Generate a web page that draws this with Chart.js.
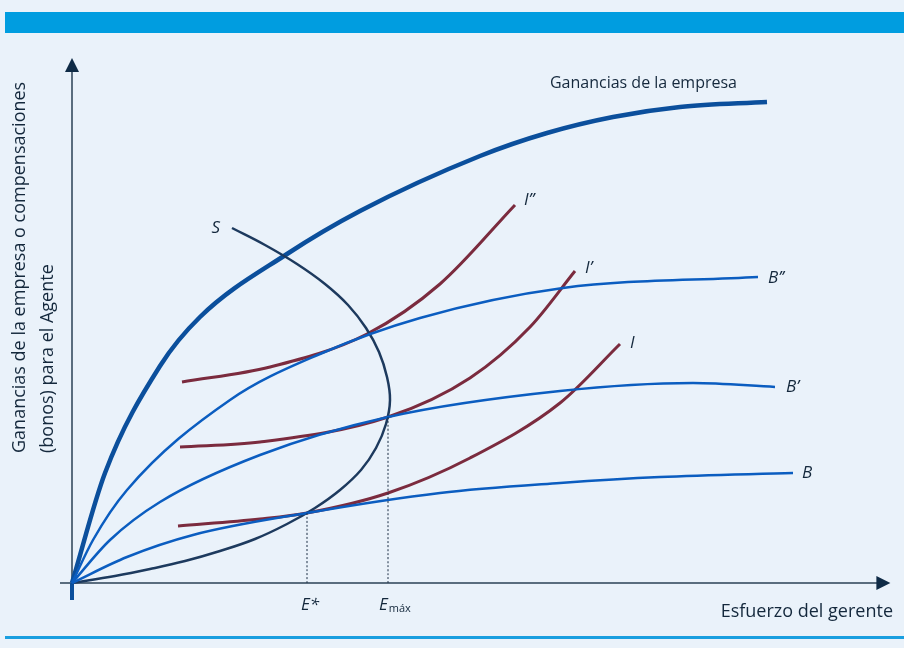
<!DOCTYPE html>
<html lang="es">
<head>
<meta charset="utf-8">
<script src="https://cdn.jsdelivr.net/npm/chart.js@4.4.1/dist/chart.umd.min.js"></script>
<style>
    html, body { margin: 0; padding: 0; background: #eaf2fa; }
    canvas { display: block; }
</style>
</head>
<body>
<canvas id="grafica" width="904" height="648"></canvas>
<script>
// curvas: [esfuerzo, ganancias/bonos] en unidades arbitrarias
const GANANCIAS = [[0, 0], [4.125, 22], [11, 43.4], [16, 53.2], [26.875, 65.8], [36, 74.4], [51, 85.4],
    [59.375, 90], [67.625, 93.2], [76, 95.2], [86.875, 96.2]];
// pequeño trazo de la curva por debajo del eje
const GANANCIAS_COLA = [[0, -3.4], [0, 0]];

const B2 = [[0, 0], [2.625, 8.6], [6.875, 18.6], [19.75, 36.6], [31, 45.8], [43.5, 53], [61.375, 59], [85.75, 61.2]];
const B1 = [[0, 0], [4.75, 8.6], [11, 16.2], [23.5, 25.6], [39.5, 33.2], [61, 38.4], [77.625, 40], [87.875, 39.2]];
const B0 = [[0, 0], [6.875, 5.2], [15.125, 9.6], [29.375, 14], [46, 18], [61, 20], [73.5, 21.2], [90.125, 22]];

const CURVA_S = [[20, 71], [24.125, 67.6], [28.125, 63.8], [31.625, 59.8], [34.5, 55.6], [36.75, 51],
    [38.375, 46.2], [39.375, 41.2], [39.75, 36.6], [39.25, 31.8], [38, 27], [36.125, 22.6], [33.5, 18.6],
    [30.375, 15], [26.875, 11.8], [22.875, 8.8], [18.5, 6.4], [14.125, 4.4], [9.75, 2.8], [5.375, 1.4], [0, 0]];

const I2 = [[13.75, 40.2], [24.75, 43.2], [36.875, 49.8], [46, 59.8], [55.375, 75.6]];
const I1 = [[13.5, 27.2], [23.5, 28.2], [39.5, 33.2], [49.75, 41], [57.25, 51.2], [62.875, 62.4]];
const I0 = [[13.25, 11.4], [23.5, 12.8], [29.375, 14], [39.5, 18], [49.75, 25], [61, 36], [68.5, 47.8]];

// equilibrios: E* y E max
const E_ESTRELLA = [29.375, 14];
const E_MAX = [39.5, 33.2];

// extension de los ejes
const EJE_X_FIN = 102.3;
const EJE_Y_FIN = 105;

// escala: pixeles por unidad y posicion del origen
const PX_X = 8, PX_Y = 5;
const ORIGEN = { x: 72, y: 583 };
const ANCHO = 904, ALTO = 648;

const FUENTE = "'Open Sans', sans-serif";
const C_TEXTO = '#14283c';
const C_GANANCIAS = '#0b4f9c';
const C_B = '#0b5dc0';
const C_S = '#1d3a5e';
const C_I = '#7b2b3e';

const toPts = arr => arr.map(([x, y]) => ({ x, y }));

const linea = (data, color, ancho, extra = {}) => ({
    data: toPts(data),
    borderColor: color,
    borderWidth: ancho,
    showLine: true,
    pointRadius: 0,
    cubicInterpolationMode: 'monotone',
    fill: false,
    ...extra,
});

// fondo, franja superior y linea inferior
const fondoPlugin = {
    id: 'fondo',
    beforeDraw(chart) {
        const ctx = chart.ctx;
        ctx.save();
        ctx.fillStyle = '#eaf2fa';
        ctx.fillRect(0, 0, ANCHO, ALTO);
        ctx.fillStyle = '#009de0';
        ctx.fillRect(5, 12, ANCHO - 5, 21);
        ctx.fillStyle = '#1a9fe0';
        ctx.fillRect(5, 636, ANCHO - 5, 3);
        ctx.restore();
    }
};

// ejes con flechas
const ejesPlugin = {
    id: 'ejes',
    beforeDatasetsDraw(chart) {
        const ctx = chart.ctx;
        const sx = chart.scales.x, sy = chart.scales.y;
        const x0 = sx.getPixelForValue(0), y0 = sy.getPixelForValue(0);
        const xFin = sx.getPixelForValue(EJE_X_FIN), yFin = sy.getPixelForValue(EJE_Y_FIN);

        ctx.save();
        ctx.strokeStyle = '#2b4256';
        ctx.lineWidth = 1.5;
        ctx.beginPath();
        ctx.moveTo(x0 - 12, y0);
        ctx.lineTo(xFin - 10, y0);
        ctx.moveTo(x0, y0 + 2);
        ctx.lineTo(x0, yFin + 10);
        ctx.stroke();

        ctx.fillStyle = '#0f2b46';
        ctx.beginPath();
        ctx.moveTo(xFin, y0);
        ctx.lineTo(xFin - 14, y0 - 7);
        ctx.lineTo(xFin - 14, y0 + 7);
        ctx.closePath();
        ctx.fill();
        ctx.beginPath();
        ctx.moveTo(x0, yFin);
        ctx.lineTo(x0 - 7, yFin + 14);
        ctx.lineTo(x0 + 7, yFin + 14);
        ctx.closePath();
        ctx.fill();
        ctx.restore();
    }
};

// textos: etiquetas de curvas y de ejes
const textosPlugin = {
    id: 'textos',
    afterDatasetsDraw(chart) {
        const ctx = chart.ctx;
        const sx = chart.scales.x, sy = chart.scales.y;
        const y0 = sy.getPixelForValue(0);

        ctx.save();
        ctx.fillStyle = C_TEXTO;
        ctx.textBaseline = 'middle';

        chart.data.datasets.forEach(ds => {
            if (!ds.etiqueta) return;
            const p = ds.etiquetaEnInicio ? ds.data[0] : ds.data[ds.data.length - 1];
            const px = sx.getPixelForValue(p.x), py = sy.getPixelForValue(p.y);
            const [dx, dy] = ds.etiquetaDesplaz;
            ctx.font = ds.etiquetaFuente || `italic 17px ${FUENTE}`;
            ctx.textAlign = ds.etiquetaAlinea || 'left';
            ctx.fillText(ds.etiqueta, px + dx, py + dy);
        });

        // E* y E max bajo el eje
        ctx.font = `italic 17px ${FUENTE}`;
        ctx.textAlign = 'left';
        const xe = sx.getPixelForValue(E_ESTRELLA[0]);
        ctx.fillText('E*', xe - 6, y0 + 22);
        const xm = sx.getPixelForValue(E_MAX[0]);
        ctx.fillText('E', xm - 9, y0 + 22);
        const anchoE = ctx.measureText('E').width;
        ctx.font = `11px ${FUENTE}`;
        ctx.fillText('máx', xm - 9 + anchoE + 1, y0 + 26);

        // titulo eje x
        ctx.font = `18px ${FUENTE}`;
        ctx.textAlign = 'right';
        ctx.fillText('Esfuerzo del gerente', 893, y0 + 29);

        // titulo eje y
        ctx.rotate(-Math.PI / 2);
        ctx.textAlign = 'left';
        ctx.fillText('Ganancias de la empresa o compensaciones', -453, 20);
        ctx.fillText('(bonos) para el Agente', -453, 48);
        ctx.restore();
    }
};

new Chart(document.getElementById('grafica'), {
    type: 'scatter',
    data: {
        datasets: [
            linea([[E_ESTRELLA[0], 0], E_ESTRELLA], '#1d2f45', 1, { borderDash: [2, 2] }),
            linea([[E_MAX[0], 0], E_MAX], '#1d2f45', 1, { borderDash: [2, 2] }),
            linea(B0, C_B, 2.5, { etiqueta: 'B', etiquetaDesplaz: [9, 0] }),
            linea(B1, C_B, 2.5, { etiqueta: 'B’', etiquetaDesplaz: [11, 0] }),
            linea(B2, C_B, 2.5, { etiqueta: 'B’’', etiquetaDesplaz: [10, 1] }),
            linea(CURVA_S, C_S, 2.5, {
                cubicInterpolationMode: 'default', tension: 0.4,
                etiqueta: 'S', etiquetaEnInicio: true, etiquetaAlinea: 'right', etiquetaDesplaz: [-12, 0]
            }),
            linea(I0, C_I, 3, { etiqueta: 'I', etiquetaDesplaz: [10, -1] }),
            linea(I1, C_I, 3, { etiqueta: 'I’', etiquetaDesplaz: [10, -3] }),
            linea(I2, C_I, 3, { etiqueta: 'I’’', etiquetaDesplaz: [9, -5] }),
            linea(GANANCIAS_COLA, C_GANANCIAS, 4, { cubicInterpolationMode: 'default', tension: 0 }),
            linea(GANANCIAS, C_GANANCIAS, 4.5, {
                etiqueta: 'Ganancias de la empresa', etiquetaAlinea: 'right',
                etiquetaFuente: `16px ${FUENTE}`, etiquetaDesplaz: [-30, -19]
            }),
        ]
    },
    options: {
        responsive: false,
        animation: false,
        events: [],
        layout: { padding: 0 },
        plugins: {
            legend: { display: false },
            tooltip: { enabled: false },
        },
        scales: {
            x: { type: 'linear', display: false, min: -ORIGEN.x / PX_X, max: (ANCHO - ORIGEN.x) / PX_X },
            y: { type: 'linear', display: false, min: -(ALTO - ORIGEN.y) / PX_Y, max: ORIGEN.y / PX_Y },
        }
    },
    plugins: [fondoPlugin, ejesPlugin, textosPlugin]
});
</script>
</body>
</html>
